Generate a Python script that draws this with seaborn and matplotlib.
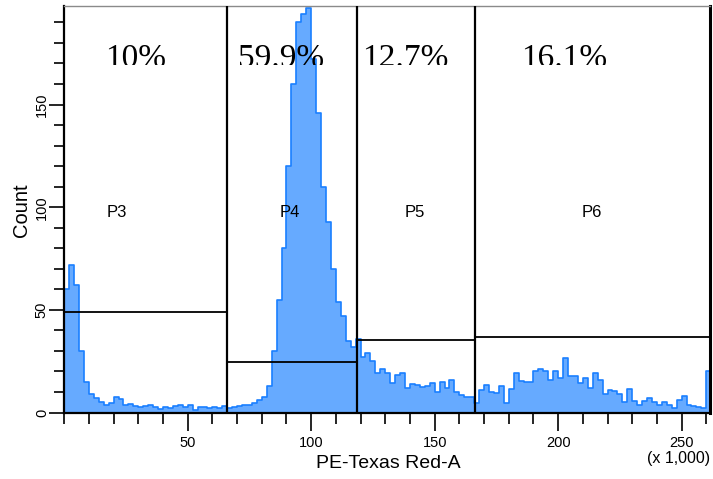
import numpy as np
import pandas as pd
import seaborn as sns
import matplotlib
matplotlib.use("Agg")
import matplotlib.pyplot as plt
from matplotlib.ticker import MultipleLocator
from matplotlib.transforms import Bbox, TransformedBbox

# Histogram of PE-Texas Red-A (x 1,000), 2-unit bins from 0 to 262
bin_width = 2
counts = [
    60, 72, 62, 30, 15, 9, 7, 5.3, 3.7, 4.6,
    7.7, 6.5, 3.7, 4, 3.2, 2.5, 3, 3.7, 2.5, 1.7,
    2.5, 2, 3, 3.7, 2.5, 3.7, 1.2, 2.5, 2.7, 2,
    2.5, 2, 3, 2, 2.8, 3.3, 3.7, 3.5, 4.5, 6,
    7.7, 13, 30, 55, 80, 120, 160, 190, 194, 197,
    172, 146, 110, 93, 70, 54, 47, 35, 32, 36,
    27, 29, 25, 19, 21, 19, 14.5, 18.3, 19, 12,
    14, 13.4, 12.6, 13, 14.3, 10, 15, 12, 16, 10,
    8.5, 7.7, 7.5, 4.5, 11, 13.4, 10, 9.4, 13, 4.6,
    11.5, 19, 15.5, 15, 15, 20, 21, 20, 16, 20,
    17, 26.4, 18, 18, 14.2, 17, 12, 19, 16, 9,
    11, 10.5, 9, 5, 11.5, 5.5, 3.7, 5.5, 7, 5.3,
    3.5, 5.3, 3.5, 2, 6, 8, 3.5, 3, 2.8, 2,
    20,
]
bin_centers = [bin_width * i + bin_width / 2 for i in range(len(counts))]

# Gates
gate_names = ["P3", "P4", "P5", "P6"]
gate_left = [0, 66.0, 118.6, 166.4]
gate_right = [66.0, 118.6, 166.4, 261.5]
gate_level = [49, 24.6, 35.5, 36.7]
gate_label_x = [21.2, 91.2, 141.8, 213.5]
gate_label_y = 97.5
gate_pct = ["10%", "59.9%", "12.7%", "16.1%"]
gate_pct_x = [29.1, 87.8, 138.0, 202.3]

x_major = [50, 100, 150, 200, 250]
y_major = [0, 50, 100, 150]

sns.set_style("ticks")
plt.rcParams["font.family"] = ["Liberation Sans", "DejaVu Sans"]
plt.rcParams["text.color"] = "black"
plt.rcParams["axes.labelcolor"] = "black"
plt.rcParams["xtick.color"] = "black"
plt.rcParams["ytick.color"] = "black"

fig = plt.figure(figsize=(7.13, 4.79), dpi=100)
ax = fig.add_axes([64.2 / 713, 1 - 412.5 / 479, (710 - 64.2) / 713, (412.5 - 6) / 479])

df = pd.DataFrame({"value": bin_centers, "count": counts})
edges = [bin_width * i for i in range(len(counts) + 1)]
sns.histplot(data=df, x="value", weights="count", bins=edges, element="step",
             fill=True, facecolor="#66AAFF", edgecolor="#1A7FFF", linewidth=1.2,
             ax=ax, zorder=2)

ax.set_xlim(0, 261.5)
ax.set_ylim(0, 198)

# Gate outlines
for left, right, level in zip(gate_left, gate_right, gate_level):
    ax.plot([left, right], [level, level], color="black", lw=1.3, zorder=3)
for xv in gate_left[1:]:
    ax.plot([xv, xv], [0, 198], color="black", lw=1.6, zorder=3)

for name, lx in zip(gate_names, gate_label_x):
    ax.text(lx, gate_label_y, name, ha="center", va="center", fontsize=12,
            color="black", zorder=4)

clip = TransformedBbox(Bbox.from_extents(0, 169.5, 262, 200), ax.transData)
for pct, px in zip(gate_pct, gate_pct_x):
    t = ax.text(px, 168.3, pct, ha="center", va="baseline", fontsize=24, color="black",
                family=["Liberation Serif", "DejaVu Serif"], zorder=5)
    t.set_clip_on(True)
    t.set_clip_box(clip)
    t.set_clip_path(None)

# Axes styling
ax.xaxis.set_major_locator(plt.FixedLocator(x_major))
ax.xaxis.set_minor_locator(MultipleLocator(10))
ax.yaxis.set_major_locator(plt.FixedLocator(y_major))
ax.yaxis.set_minor_locator(MultipleLocator(10))
ax.tick_params(axis="x", which="major", length=13, width=1.2, labelsize=10.5, pad=4)
ax.tick_params(axis="x", which="minor", length=8, width=1.2)
ax.tick_params(axis="y", which="major", length=11, width=1.2, labelsize=10.5, pad=0,
               labelrotation=90)
ax.tick_params(axis="y", which="minor", length=7.5, width=1.2)
for lbl in ax.get_yticklabels():
    lbl.set_va("center")

for side in ["left", "bottom"]:
    ax.spines[side].set_color("black")
    ax.spines[side].set_linewidth(1.6)
ax.spines["right"].set_color("black")
ax.spines["right"].set_linewidth(2.2)
ax.spines["top"].set_color("#8a8a8a")
ax.spines["top"].set_linewidth(1.0)

ax.set_xlabel("")
ax.set_ylabel("")
fig.text(388 / 713, 1 - 463 / 479, "PE-Texas Red-A", ha="center", va="center", fontsize=14)
fig.text(22 / 713, 1 - 210 / 479, "Count", ha="center", va="center", fontsize=14.5, rotation=90)
fig.text(679 / 713, 1 - 459 / 479, "(x 1,000)", ha="center", va="center", fontsize=11.5)

fig.savefig("out.png", dpi=100)
